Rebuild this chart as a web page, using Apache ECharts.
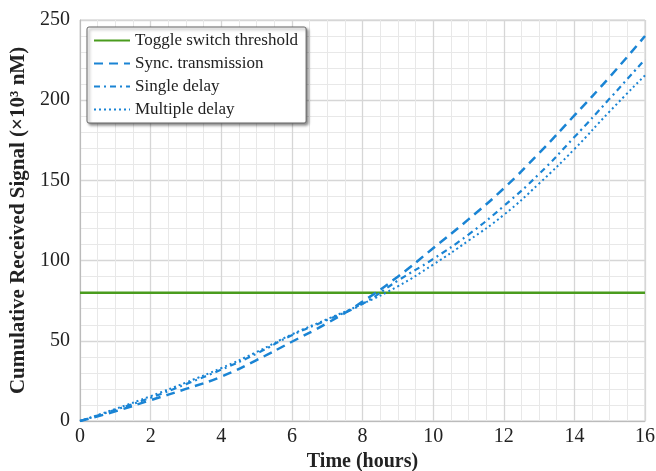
<!DOCTYPE html>
<html><head><meta charset="utf-8">
<script src="https://cdn.jsdelivr.net/npm/echarts@6/dist/echarts.min.js"></script>
<style>html,body{margin:0;padding:0;background:#fff}#c{width:656px;height:471px}</style>
</head><body><div id="c"></div>
<script>
const hours = [0,1,2,3,4,5,6,7,8,9,10,11,12,13,14,15,16];
const threshold = 80;
const syncTransmission = [0,6,13,20,27.6,38,49.4,61,74.4,90,107.7,125.7,145,167,190.5,214.5,240];
const singleDelay = [0,7,14.5,23,32,42,53.5,63,73,87.5,101,116.2,134,154,177,201,225.5];
const multipleDelay = [0,7.5,15.5,24,33,43,54,63.5,73,84,97.5,112.4,128.5,148,169.5,193,215.5];
const xTicks = [0,2,4,6,8,10,12,14,16];
const yTicks = [0,50,100,150,200,250];

const font = 'Liberation Serif';
const blue = '#1a84d4';
function pairs(arr){ return hours.map((h,i)=>[h,arr[i]]); }

const chart = echarts.init(document.getElementById('c'));
chart.setOption({
  animation:false,
  textStyle:{fontFamily:font},
  grid:{left:80,right:11,top:20,bottom:50,show:true,borderColor:'#cfcfcf',borderWidth:1,
    containLabel:false, outerBoundsMode:'none'},
  legend:{
    left:87, top:27, orient:'vertical',
    itemWidth:36, itemHeight:10, itemGap:6,
    padding:[5,8,5,6],
    backgroundColor:'#fff', borderColor:'#666', borderWidth:1, borderRadius:2,
    shadowBlur:3, shadowColor:'rgba(0,0,0,0.45)', shadowOffsetX:2, shadowOffsetY:2,
    itemStyle:{opacity:0},
    textStyle:{fontFamily:font,fontSize:17,color:'#222'},
    data:['Toggle switch threshold','Sync. transmission','Single delay','Multiple delay']
  },
  xAxis:{
    type:'value', min:0, max:16, interval:2,
    name:'Time (hours)', nameLocation:'middle', nameGap:31,
    nameTextStyle:{fontFamily:font,fontSize:20,fontWeight:'bold',color:'#222'},
    axisLine:{show:true,lineStyle:{color:'#bbb'}},
    axisTick:{show:false},
    axisLabel:{fontFamily:font,fontSize:20,color:'#222',margin:6,
      formatter:v=>xTicks.includes(v)?String(v):''},
    splitLine:{show:true,lineStyle:{color:'#d6d6d6',width:1.3}},
    minorTick:{show:false,splitNumber:4},
    minorSplitLine:{show:true,lineStyle:{color:'#e8e8e8',width:1}}
  },
  yAxis:{
    type:'value', min:0, max:250, interval:50,
    name:'Cumulative Received Signal (×10³ nM)', nameLocation:'middle', nameGap:42,
    nameTextStyle:{fontFamily:font,fontSize:21,fontWeight:'bold',color:'#222'},
    axisLine:{show:true,lineStyle:{color:'#bbb'}},
    axisTick:{show:false},
    axisLabel:{fontFamily:font,fontSize:20,color:'#222',margin:10,
      formatter:v=>yTicks.includes(v)?String(v):''},
    splitLine:{show:true,lineStyle:{color:'#d6d6d6',width:1.3}},
    minorTick:{show:false,splitNumber:5},
    minorSplitLine:{show:true,lineStyle:{color:'#e8e8e8',width:1}}
  },
  series:[
    {name:'Toggle switch threshold',type:'line',symbol:'none',
      data:[[0,threshold],[16,threshold]],
      lineStyle:{color:'#4a9c1e',width:2.5},itemStyle:{color:'#4a9c1e'}},
    {name:'Sync. transmission',type:'line',symbol:'none',smooth:true,
      data:pairs(syncTransmission),
      lineStyle:{color:blue,width:2.5,type:[9,6]},itemStyle:{color:blue}},
    {name:'Single delay',type:'line',symbol:'none',smooth:true,
      data:pairs(singleDelay),
      lineStyle:{color:blue,width:2.2,type:[6,4,2,4]},itemStyle:{color:blue}},
    {name:'Multiple delay',type:'line',symbol:'none',smooth:true,
      data:pairs(multipleDelay),
      lineStyle:{color:blue,width:2,type:[2,3]},itemStyle:{color:blue}}
  ]
});
</script></body></html>
